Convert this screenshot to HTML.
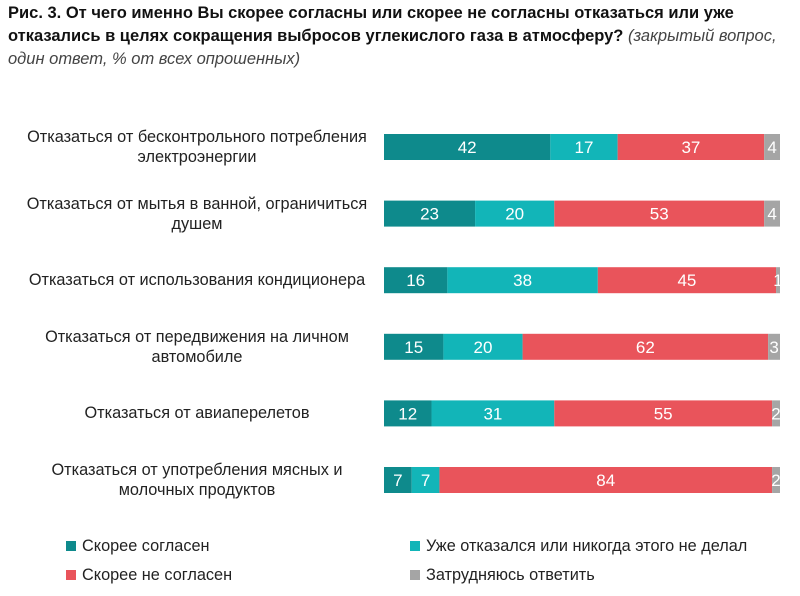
<!DOCTYPE html>
<html><head><meta charset="utf-8"><style>
body{margin:0;width:800px;height:596px;background:#fff;font-family:"Liberation Sans",sans-serif;color:#222;overflow:hidden;position:relative}
#title{position:absolute;left:8px;top:2px;width:785px;font-family:"Liberation Sans Narrow","Liberation Sans",sans-serif;font-size:16.5px;line-height:23px;color:#111;font-weight:bold}
#title i{font-weight:normal;color:#444}
.lbl{position:absolute;left:18px;width:358px;text-align:center;font-size:16.3px;line-height:20px;color:#222}
.leg{position:absolute;font-size:16.3px;color:#222}
.leg span{display:inline-block;width:10px;height:10px;margin-right:6px;vertical-align:0px}
</style></head><body>
<div id="title">Рис. 3. От чего именно Вы скорее согласны или скорее не согласны отказаться или уже отказались в целях сокращения выбросов углекислого газа в атмосферу? <i>(закрытый вопрос, один ответ, % от всех опрошенных)</i></div>
<svg id="chart" width="800" height="596" style="position:absolute;left:0;top:0"></svg>
<div id="labels"></div>
<div class="leg" style="left:66px;top:537px"><span style="background:#0e8a8c"></span>Скорее согласен</div>
<div class="leg" style="left:410px;top:537px"><span style="background:#12b5b8"></span>Уже отказался или никогда этого не делал</div>
<div class="leg" style="left:66px;top:566px"><span style="background:#e9545b"></span>Скорее не согласен</div>
<div class="leg" style="left:410px;top:566px"><span style="background:#a5a5a5"></span>Затрудняюсь ответить</div>
<script>
const categories=["Отказаться от бесконтрольного потребления электроэнергии","Отказаться от мытья в ванной, ограничиться душем","Отказаться от использования кондиционера","Отказаться от передвижения на личном автомобиле","Отказаться от авиаперелетов","Отказаться от употребления мясных и молочных продуктов"];
const agree=[42,23,16,15,12,7];
const already=[17,20,38,20,31,7];
const disagree=[37,53,45,62,55,84];
const hard=[4,4,1,3,2,2];
const series=[agree,already,disagree,hard];
const colors=["#0e8a8c","#12b5b8","#e9545b","#a5a5a5"];
const names=["agree","already","disagree","hard"];
const x0=384,scale=3.96,y0=147,step=66.6,bh=26;
const xs=v=>x0+v*scale;
const yc=i=>y0+i*step;
const svg=document.getElementById('chart');
const NS="http://www.w3.org/2000/svg";
categories.forEach((c,i)=>{
  let acc=0;
  series.forEach((s,k)=>{
    const v=s[i];
    const r=document.createElementNS(NS,'rect');
    r.setAttribute('x',xs(acc));r.setAttribute('y',yc(i)-bh/2);
    r.setAttribute('width',v*scale);r.setAttribute('height',bh);
    r.setAttribute('fill',colors[k]);
    
    
    svg.appendChild(r);
    const t=document.createElementNS(NS,'text');
    t.setAttribute('x',xs(acc)+v*scale/2);
    t.setAttribute('y',yc(i)+6);
    t.setAttribute('text-anchor','middle');
    t.setAttribute('fill','#fff');
    t.setAttribute('font-size','17');
    t.setAttribute('font-family','Liberation Sans, sans-serif');
    t.textContent=v;
    
    
    svg.appendChild(t);
    acc+=v;
  });
  const d=document.createElement('div');
  d.className='lbl';
  const twoLine=c.length>42;
  d.style.top=(yc(i)-(twoLine?20:10))+'px';
  d.textContent=c;
  
  
  document.getElementById('labels').appendChild(d);
});
</script>
</body></html>
